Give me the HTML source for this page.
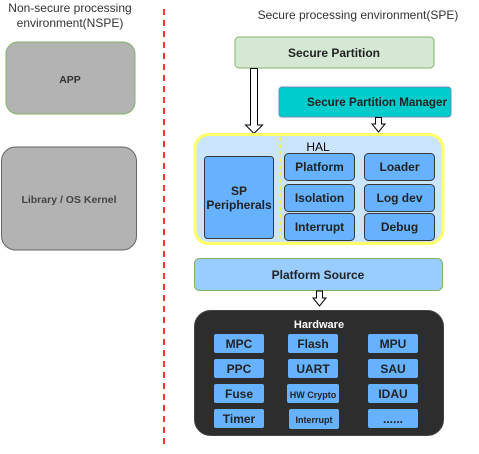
<!DOCTYPE html>
<html><head><style>
body{margin:0;background:#fff;}
svg text{font-family:"Liberation Sans",sans-serif;}
</style></head><body>
<svg width="479" height="449" viewBox="0 0 479 449" xmlns="http://www.w3.org/2000/svg">
<text x="70" y="12" font-size="12" fill="#333" text-anchor="middle">Non-secure processing</text>
<text x="70" y="27" font-size="12" fill="#333" text-anchor="middle">environment(NSPE)</text>
<text x="358" y="19" font-size="12" fill="#333" text-anchor="middle">Secure processing environment(SPE)</text>
<line x1="164" y1="9" x2="164" y2="449" stroke="#ff3333" stroke-width="2" stroke-dasharray="6,5"/>
<rect x="6" y="42" width="129" height="72" rx="12" fill="#b3b3b3" stroke="#82b366"/>
<text x="70" y="83" font-size="10.5" font-weight="bold" fill="#333" text-anchor="middle">APP</text>
<rect x="1.5" y="147" width="135" height="103" rx="14" fill="#b3b3b3" stroke="#666"/>
<text x="69" y="203" font-size="10.5" font-weight="bold" fill="#444" text-anchor="middle">Library / OS Kernel</text>
<rect x="235" y="37" width="199" height="31" rx="4" fill="#d5e8d4" stroke="#82b366"/>
<text x="334" y="57" font-size="12" font-weight="bold" fill="#222" text-anchor="middle">Secure Partition</text>
<rect x="279" y="87" width="172" height="30" rx="3" fill="#00cccc" stroke="#6c8ebf"/>
<text x="377" y="106" font-size="11.5" font-weight="bold" fill="#222" text-anchor="middle" textLength="140" lengthAdjust="spacingAndGlyphs">Secure Partition Manager</text>
<path d="M250.5 68.5 H257.5 V125 H262.5 L254 133.5 L245.5 125 H250.5 Z" fill="#fff" stroke="#000"/>
<path d="M375.5 117.5 H381.5 V124 H385 L378.5 132 L372 124 H375.5 Z" fill="#fff" stroke="#000"/>
<rect x="195" y="134.5" width="248" height="109" rx="14" fill="#cce5ff" stroke="#ffff66" stroke-width="3"/>
<line x1="280" y1="137" x2="280" y2="242" stroke="#eeee55" stroke-width="2" stroke-dasharray="4,3"/>
<text x="318" y="151" font-size="12" fill="#000" text-anchor="middle">HAL</text>
<rect x="204.5" y="156.5" width="69" height="82" rx="3" fill="#66b2ff" stroke="#36393d"/>
<text x="239" y="195" font-size="12" font-weight="bold" fill="#222" text-anchor="middle">SP</text>
<text x="239" y="209" font-size="12" font-weight="bold" fill="#222" text-anchor="middle">Peripherals</text>
<g font-size="12" font-weight="bold" fill="#222" text-anchor="middle">
<rect x="284.5" y="153.5" width="70" height="27" rx="4" fill="#66b2ff" stroke="#36393d"/><text x="319.5" y="171">Platform</text>
<rect x="284.5" y="184.5" width="70" height="27" rx="4" fill="#66b2ff" stroke="#36393d"/><text x="319.5" y="202">Isolation</text>
<rect x="284.5" y="213.5" width="70" height="27" rx="4" fill="#66b2ff" stroke="#36393d"/><text x="319.5" y="231">Interrupt</text>
<rect x="364.5" y="153.5" width="70" height="27" rx="4" fill="#66b2ff" stroke="#36393d"/><text x="399.5" y="171">Loader</text>
<rect x="364.5" y="184.5" width="70" height="27" rx="4" fill="#66b2ff" stroke="#36393d"/><text x="399.5" y="202">Log dev</text>
<rect x="364.5" y="213.5" width="70" height="27" rx="4" fill="#66b2ff" stroke="#36393d"/><text x="399.5" y="231">Debug</text>
</g>
<rect x="194.5" y="258.5" width="248" height="32" rx="5" fill="#99ccff" stroke="#82b366"/>
<text x="318" y="279" font-size="12" font-weight="bold" fill="#222" text-anchor="middle">Platform Source</text>
<path d="M316.5 291 H322.5 V298 H326 L319.5 306 L313 298 H316.5 Z" fill="#fff" stroke="#000"/>
<rect x="194.5" y="310.5" width="249" height="125" rx="16" fill="#2d2d2d" stroke="#444"/>
<text x="319" y="328" font-size="11" font-weight="bold" fill="#fff" text-anchor="middle">Hardware</text>
<g font-size="12" font-weight="bold" fill="#222" text-anchor="middle" stroke="none">
<rect x="214" y="334" width="50" height="19" rx="2" fill="#66b2ff"/><text x="239" y="348">MPC</text>
<rect x="214" y="359" width="50" height="19" rx="2" fill="#66b2ff"/><text x="239" y="373">PPC</text>
<rect x="214" y="384" width="50" height="19" rx="2" fill="#66b2ff"/><text x="239" y="398">Fuse</text>
<rect x="214" y="409" width="50" height="19" rx="2" fill="#66b2ff"/><text x="239" y="423">Timer</text>
<rect x="288" y="334" width="50" height="19" rx="2" fill="#66b2ff"/><text x="313" y="348">Flash</text>
<rect x="288" y="359" width="50" height="19" rx="2" fill="#66b2ff"/><text x="313" y="373">UART</text>
<rect x="287" y="384" width="52" height="19" rx="2" fill="#66b2ff"/><text x="313" y="398" font-size="9">HW Crypto</text>
<rect x="289" y="409" width="50" height="20" rx="2" fill="#66b2ff"/><text x="314" y="423" font-size="9">Interrupt</text>
<rect x="368" y="334" width="50" height="19" rx="2" fill="#66b2ff"/><text x="393" y="348">MPU</text>
<rect x="368" y="359" width="50" height="19" rx="2" fill="#66b2ff"/><text x="393" y="373">SAU</text>
<rect x="368" y="384" width="50" height="19" rx="2" fill="#66b2ff"/><text x="393" y="398">IDAU</text>
<rect x="368" y="409" width="50" height="19" rx="2" fill="#66b2ff"/><text x="393" y="423">......</text>
</g>
</svg>
</body></html>
